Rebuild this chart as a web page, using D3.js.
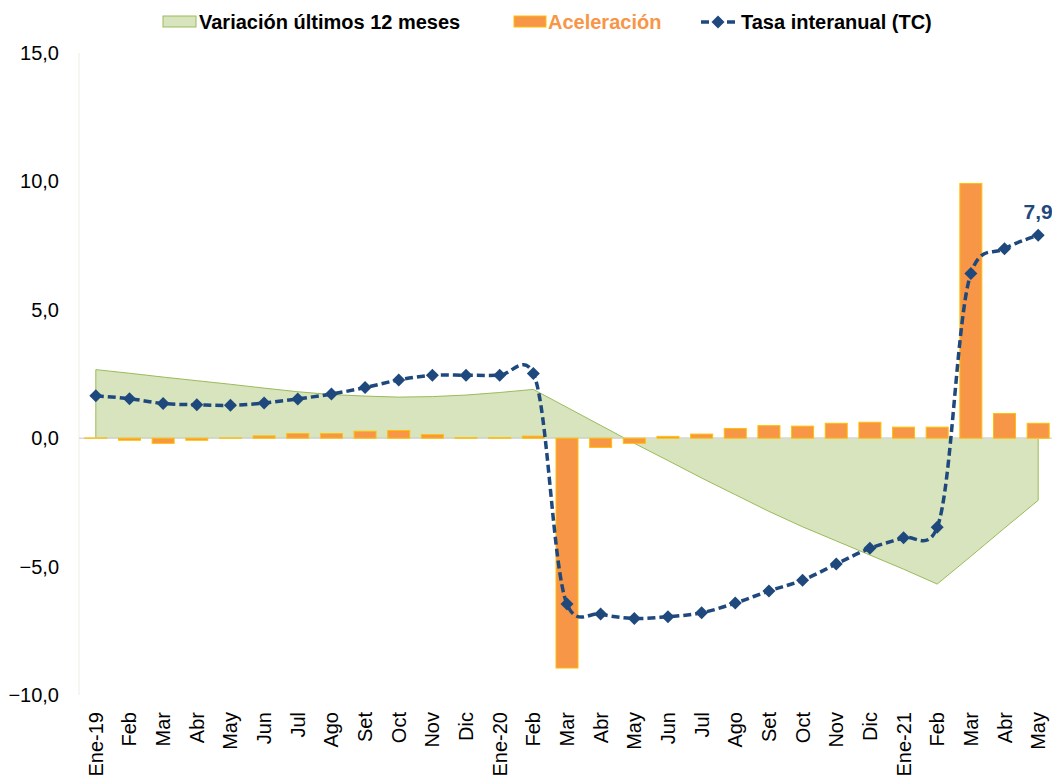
<!DOCTYPE html>
<html lang="es">
<head>
    <meta charset="UTF-8">
    <title>Tasa interanual</title>
    <style>
        body { margin: 0; background: #fff; }
        text { font-family: "Liberation Sans", Arial, sans-serif; }
    </style>
</head>
<body>
    <svg width="1052" height="780"></svg>

    <script src="https://cdnjs.cloudflare.com/ajax/libs/d3/7.8.5/d3.min.js"></script>
    <script>
        // meses (eje x)
        var meses = ['Ene-19', 'Feb', 'Mar', 'Abr', 'May', 'Jun', 'Jul', 'Ago', 'Set', 'Oct', 'Nov', 'Dic',
                     'Ene-20', 'Feb', 'Mar', 'Abr', 'May', 'Jun', 'Jul', 'Ago', 'Set', 'Oct', 'Nov', 'Dic',
                     'Ene-21', 'Feb', 'Mar', 'Abr', 'May'];

        // Variación últimos 12 meses (área)
        var variacion12 = [2.67, 2.53, 2.38, 2.24, 2.10, 1.95, 1.81, 1.70, 1.64, 1.60, 1.62, 1.68,
                           1.78, 1.90, 1.20, 0.50, -0.20, -0.87, -1.55, -2.20, -2.85, -3.45, -4.00, -4.55,
                           -5.10, -5.68, -4.60, -3.50, -2.42];

        // Aceleración (barras)
        var aceleracion = [0.01, -0.08, -0.20, -0.08, 0.01, 0.09, 0.18, 0.18, 0.27, 0.30, 0.14, 0.02,
                           0.02, 0.08, -8.95, -0.36, -0.20, 0.07, 0.16, 0.38, 0.49, 0.47, 0.58, 0.62,
                           0.43, 0.43, 9.92, 0.96, 0.58];

        // Tasa interanual (TC) (línea)
        var tasa = [1.65, 1.54, 1.35, 1.30, 1.28, 1.37, 1.53, 1.72, 1.97, 2.27, 2.45, 2.45,
                    2.45, 2.52, -6.46, -6.85, -7.02, -6.95, -6.80, -6.42, -5.95, -5.53, -4.90, -4.29,
                    -3.88, -3.47, 6.41, 7.38, 7.90];

        var yTicks = [-10, -5, 0, 5, 10, 15];

        var svg = d3.select('svg');
        var idx = d3.range(meses.length);

        var x = d3.scaleBand().domain(idx).range([79, 1055]).padding(0);
        var xc = function (i) { return x(i) + x.bandwidth() / 2; };
        var y = d3.scaleLinear().domain([-10, 15]).range([695, 53]);

        var fmt = function (v) { return d3.format('.1f')(v).replace('.', ','); };

        // eje vertical (línea clara)
        svg.append('line')
            .attr('x1', 79).attr('x2', 79)
            .attr('y1', y(15)).attr('y2', y(-10))
            .attr('stroke', '#EEECE1').attr('stroke-width', 1);

        // etiquetas eje y
        svg.append('g')
            .selectAll('text')
            .data(yTicks)
            .enter()
            .append('text')
            .attr('x', 59)
            .attr('y', function (d) { return y(d); })
            .attr('dy', '0.35em')
            .attr('text-anchor', 'end')
            .attr('font-size', 20)
            .attr('fill', '#000')
            .text(fmt);

        // área
        var area = d3.area()
            .x(function (d, i) { return xc(i); })
            .y0(y(0))
            .y1(function (d) { return y(d); });

        svg.append('path')
            .datum(variacion12)
            .attr('d', area)
            .attr('fill', '#D7E4BD')
            .attr('stroke', '#9BBB59')
            .attr('stroke-width', 1);

        // línea cero
        svg.append('line')
            .attr('x1', 79).attr('x2', 1055)
            .attr('y1', y(0)).attr('y2', y(0))
            .attr('stroke', '#D9D9D9').attr('stroke-width', 1.5);

        // barras
        var bw = 22;
        svg.append('g')
            .selectAll('rect')
            .data(aceleracion)
            .enter()
            .append('rect')
            .attr('x', function (d, i) { return xc(i) - bw / 2; })
            .attr('y', function (d) { return y(Math.max(0, d)); })
            .attr('width', bw)
            .attr('height', function (d) { return Math.abs(y(d) - y(0)); })
            .attr('fill', '#F79646')
            .attr('stroke', '#FFC000')
            .attr('stroke-width', 1);

        // línea suavizada
        var line = d3.line()
            .x(function (d, i) { return xc(i); })
            .y(function (d) { return y(d); })
            .curve(d3.curveCatmullRom.alpha(0.2));

        svg.append('path')
            .datum(tasa)
            .attr('d', line)
            .attr('fill', 'none')
            .attr('stroke', '#1F497D')
            .attr('stroke-width', 3.5)
            .attr('stroke-dasharray', '8,4');

        var diamond = 'M0,-6.5L6.5,0L0,6.5L-6.5,0Z';
        svg.append('g')
            .selectAll('path')
            .data(tasa)
            .enter()
            .append('path')
            .attr('d', diamond)
            .attr('transform', function (d, i) { return 'translate(' + xc(i) + ',' + y(d) + ')'; })
            .attr('fill', '#1F497D');

        // etiqueta último valor
        var last = tasa.length - 1;
        svg.append('text')
            .attr('x', xc(last))
            .attr('y', y(tasa[last]) - 16)
            .attr('text-anchor', 'middle')
            .attr('font-size', 21)
            .attr('font-weight', 'bold')
            .attr('fill', '#1F497D')
            .text(fmt(tasa[last]));

        // etiquetas eje x
        svg.append('g')
            .selectAll('text')
            .data(meses)
            .enter()
            .append('text')
            .attr('transform', function (d, i) { return 'translate(' + xc(i) + ',712) rotate(-90)'; })
            .attr('dy', '0.35em')
            .attr('text-anchor', 'end')
            .attr('font-size', 20)
            .attr('fill', '#000')
            .text(function (d) { return d; });

        // leyenda
        var leg = svg.append('g').attr('font-size', 20).attr('font-weight', 'bold');
        leg.append('rect')
            .attr('x', 163).attr('y', 16).attr('width', 33).attr('height', 11)
            .attr('fill', '#D7E4BD').attr('stroke', '#9BBB59');
        leg.append('text')
            .attr('x', 199).attr('y', 22).attr('dy', '0.35em')
            .attr('fill', '#000')
            .text('Variación últimos 12 meses');

        leg.append('rect')
            .attr('x', 514).attr('y', 16).attr('width', 32).attr('height', 11)
            .attr('fill', '#F79646').attr('stroke', '#FFC000');
        leg.append('text')
            .attr('x', 548).attr('y', 22).attr('dy', '0.35em')
            .attr('fill', '#F79646')
            .text('Aceleración');

        leg.append('line')
            .attr('x1', 701).attr('x2', 736).attr('y1', 22).attr('y2', 22)
            .attr('stroke', '#1F497D').attr('stroke-width', 3.5)
            .attr('stroke-dasharray', '8,5');
        leg.append('path')
            .attr('d', diamond)
            .attr('transform', 'translate(718,22)')
            .attr('fill', '#1F497D');
        leg.append('text')
            .attr('x', 741).attr('y', 22).attr('dy', '0.35em')
            .attr('fill', '#000')
            .text('Tasa interanual (TC)');
    </script>
</body>
</html>
